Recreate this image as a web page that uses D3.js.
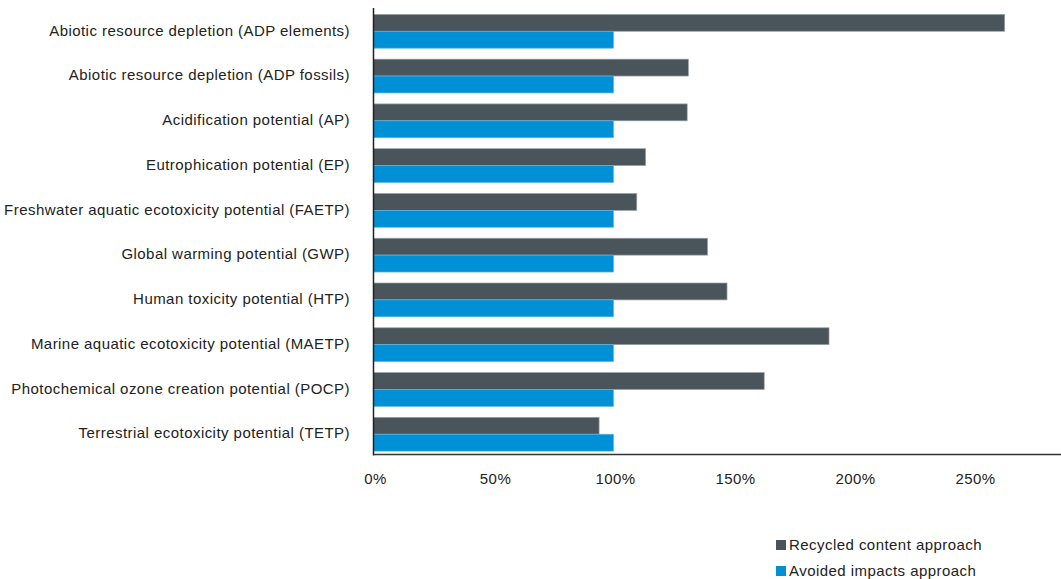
<!DOCTYPE html>
<html>
<head>
<meta charset="utf-8">
<script src="https://cdn.jsdelivr.net/npm/d3@7"></script>
<style>
  body { margin: 0; background: #fff; }
  text { font-family: "Liberation Sans", Arial, sans-serif; fill: #222; font-size: 15px; letter-spacing: 0.45px; }
</style>
</head>
<body>
<svg id="chart" width="1061" height="579"></svg>
<script>
var categories = [
    "Abiotic resource depletion (ADP elements)",
    "Abiotic resource depletion (ADP fossils)",
    "Acidification potential (AP)",
    "Eutrophication potential (EP)",
    "Freshwater aquatic ecotoxicity potential (FAETP)",
    "Global warming potential (GWP)",
    "Human toxicity potential (HTP)",
    "Marine aquatic ecotoxicity potential (MAETP)",
    "Photochemical ozone creation potential (POCP)",
    "Terrestrial ecotoxicity potential (TETP)"
];
var recycledContent = [263, 131.2, 130.7, 113.4, 109.7, 139.2, 147.3, 189.8, 162.8, 94];
var avoidedImpacts = [100, 100, 100, 100, 100, 100, 100, 100, 100, 100];
var seriesNames = ["Recycled content approach", "Avoided impacts approach"];
var tickValues = [0, 50, 100, 150, 200, 250];

var colors = ["#4a555b", "#0090d6"];

var svg = d3.select("#chart");
var plotLeft = 373.5, plotRight = 1061, plotTop = 9, plotBottom = 456.5, axisY = 454.5;

var x = d3.scaleLinear().domain([0, 100]).range([plotLeft, 613.5]);
var y = d3.scaleBand().domain(categories).range([plotTop, plotBottom]).paddingInner(0.245).paddingOuter(0.12);
var sub = d3.scaleBand().domain([0, 1]).range([0, y.bandwidth()]);

var data = categories.map(function (c, i) {
    return { cat: c, vals: [recycledContent[i], avoidedImpacts[i]] };
});

var groups = svg.append("g").selectAll("g")
    .data(data)
    .join("g")
    .attr("transform", function (d) { return "translate(0," + y(d.cat) + ")"; });

groups.selectAll("rect")
    .data(function (d) { return d.vals; })
    .join("rect")
    .attr("x", x(0))
    .attr("y", function (d, i) { return sub(i); })
    .attr("width", function (d) { return x(d) - x(0); })
    .attr("height", sub.bandwidth())
    .attr("fill", function (d, i) { return colors[i]; })
    .attr("stroke", function (d, i) { return i == 0 ? "#9ba2a6" : "#5cb6e6"; })
    .attr("stroke-width", 0.7);

// category labels
svg.append("g").selectAll("text")
    .data(categories)
    .join("text")
    .attr("x", 350)
    .attr("y", function (d) { return y(d) + y.bandwidth() / 2 - 1; })
    .attr("dy", "0.35em")
    .attr("text-anchor", "end")
    .text(function (d) { return d; });

// axes lines
svg.append("line")
    .attr("x1", plotLeft).attr("x2", plotLeft)
    .attr("y1", 8).attr("y2", axisY + 1)
    .attr("stroke", "#222").attr("stroke-width", 1.5);
svg.append("line")
    .attr("x1", plotLeft).attr("x2", plotRight)
    .attr("y1", axisY).attr("y2", axisY)
    .attr("stroke", "#333").attr("stroke-width", 1.5);

// tick labels
svg.append("g").selectAll("text")
    .data(tickValues)
    .join("text")
    .attr("x", function (d) { return x(d) + 2; })
    .attr("y", 479)
    .attr("dy", "0.35em")
    .attr("text-anchor", "middle")
    .text(function (d) { return d + "%"; });

// legend
var legend = svg.append("g").selectAll("g")
    .data(seriesNames)
    .join("g")
    .attr("transform", function (d, i) { return "translate(776," + (545 + i * 26) + ")"; });
legend.append("rect")
    .attr("x", 0).attr("y", -5)
    .attr("width", 10).attr("height", 10)
    .attr("fill", function (d, i) { return colors[i]; });
legend.append("text")
    .attr("x", 13)
    .attr("dy", "0.35em")
    .text(function (d) { return d; });
</script>
</body>
</html>
